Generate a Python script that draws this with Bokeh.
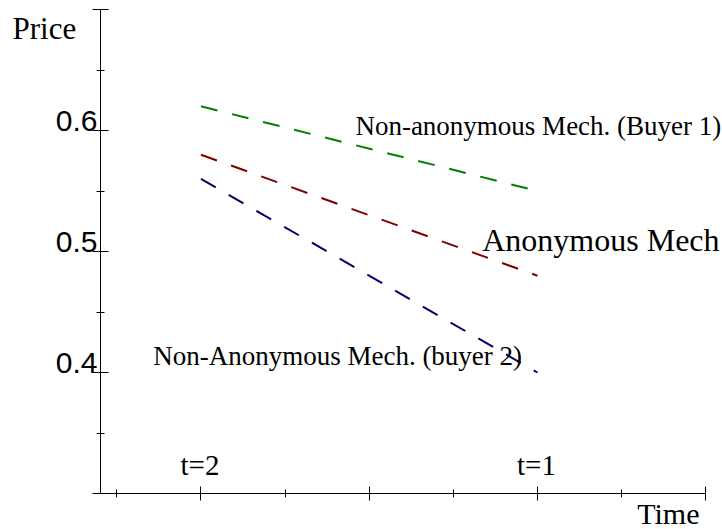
from bokeh.plotting import figure
from bokeh.models import Range1d, FixedTicker, LabelSet, ColumnDataSource
from bokeh.core.properties import value
from bokeh.embed import file_html
from bokeh.resources import INLINE

# ---- data ----
periods = [1.0, 2.0]                 # horizontal positions of the two periods
period_labels = ["t=2", "t=1"]
buyer1 = [0.62, 0.55]                # Non-anonymous Mech. (Buyer 1)
anonymous = [0.58, 0.48]             # Anonymous Mech
buyer2 = [0.56, 0.40]                # Non-Anonymous Mech. (buyer 2)
y_major = [0.3, 0.4, 0.5, 0.6, 0.7]
y_minor = [0.35, 0.45, 0.55, 0.65]
y_labelled = [0.4, 0.5, 0.6]
y_label_text = ["0.4", "0.5", "0.6"]
x_major = [1.0, 1.5, 2.0, 2.5]
x_minor = [0.75, 1.25, 1.75, 2.25]
x_bounds = (0.7, 2.5)
y_bounds = (0.3, 0.7)

# text annotations: text, anchor x, anchor y (data units), font size
note_text = ["Price", "Time", "Non-anonymous Mech. (Buyer 1)", "Anonymous Mech",
             "Non-Anonymous Mech. (buyer 2)"]
note_x = [0.44, 2.2965, 1.459, 1.836, 0.858]
note_y = [0.676, 0.2752, 0.596, 0.5008, 0.4058]
note_size = ["31px", "30px", "27px", "32px", "27px"]

SERIF = "Liberation Serif"
SANS = "Liberation Sans"

# ---- layout: the frame fills the whole canvas, axes are placed inside it ----
W, H = 722, 529
X0_PX, X_SCALE = 99.5, 336.5        # pixel of x=0.7, pixels per x unit
Y0_PX, Y_SCALE = 9.0, 1210.0        # pixel of y=0.7, pixels per y unit
x_rng = Range1d(x_bounds[0] - X0_PX / X_SCALE, x_bounds[0] + (W - X0_PX) / X_SCALE)
y_rng = Range1d(y_bounds[1] - (H - Y0_PX) / Y_SCALE, y_bounds[1] + Y0_PX / Y_SCALE)

p = figure(width=W, height=H, x_range=x_rng, y_range=y_rng,
           output_backend="svg", toolbar_location=None, min_border=0)
p.xgrid.visible = False
p.ygrid.visible = False
p.outline_line_color = None
p.background_fill_color = "white"
p.border_fill_color = "white"

for ax in (p.xaxis[0], p.yaxis[0]):
    ax.axis_line_color = "black"
    ax.axis_line_width = 1
    ax.major_tick_line_color = "black"
    ax.minor_tick_line_color = "black"
    ax.major_label_standoff = 0
    ax.minor_tick_in = 4
    ax.minor_tick_out = 4

p.yaxis.ticker = FixedTicker(ticks=y_major, minor_ticks=y_minor)
p.yaxis.major_label_overrides = {t: "" for t in y_major}
p.yaxis.fixed_location = x_bounds[0]
p.yaxis.bounds = y_bounds
p.yaxis.major_tick_in = 8
p.yaxis.major_tick_out = 8
p.xaxis.ticker = FixedTicker(ticks=x_major, minor_ticks=x_minor)
p.xaxis.major_label_overrides = {t: "" for t in x_major}
p.xaxis.fixed_location = y_bounds[0]
p.xaxis.bounds = x_bounds
p.xaxis.major_tick_in = 7
p.xaxis.major_tick_out = 7

dash = "17 15"
p.line(periods, buyer1, line_color="#008000", line_width=2, line_dash=dash)
p.line(periods, anonymous, line_color="#800000", line_width=2, line_dash=dash)
p.line(periods, buyer2, line_color="#000066", line_width=2, line_dash=dash)

# y tick labels
ysrc = ColumnDataSource(dict(x=[x_bounds[0]] * len(y_labelled), y=y_labelled, t=y_label_text))
p.add_layout(LabelSet(x="x", y="y", text="t", source=ysrc, x_offset=-2.5, y_offset=0,
                      text_align="right", text_baseline="alphabetic",
                      text_font=value(SANS), text_font_size="30px", text_color="black"))

# period labels above the time axis
xsrc = ColumnDataSource(dict(x=periods, y=[y_bounds[0]] * len(periods), t=period_labels))
p.add_layout(LabelSet(x="x", y="y", text="t", source=xsrc, x_offset=-1, y_offset=19,
                      text_align="center", text_baseline="alphabetic",
                      text_font=value(SERIF), text_font_size="29px", text_color="black"))

# axis titles and series labels
nsrc = ColumnDataSource(dict(x=note_x, y=note_y, t=note_text, s=note_size))
p.add_layout(LabelSet(x="x", y="y", text="t", source=nsrc, text_font_size="s",
                      text_align="left", text_baseline="alphabetic",
                      text_font=value(SERIF), text_color="black"))

open("out.html", "w").write(file_html(p, INLINE))
